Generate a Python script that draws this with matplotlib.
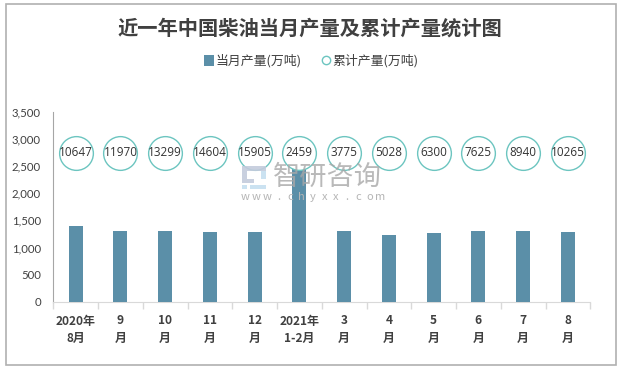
import numpy as np
import matplotlib
matplotlib.use('Agg')
import matplotlib.pyplot as plt
from matplotlib.lines import Line2D
from matplotlib.patches import Rectangle, Patch

plt.rcParams['font.family'] = ['Noto Sans CJK SC', 'DejaVu Sans']

months = ['2020年\n8月', '9\n月', '10\n月', '11\n月', '12\n月', '2021年\n1-2月',
          '3\n月', '4\n月', '5\n月', '6\n月', '7\n月', '8\n月']
monthly = [1400, 1305, 1305, 1290, 1290, 2459, 1305, 1240, 1260, 1305, 1305, 1290]
cumulative = [10647, 11970, 13299, 14604, 15905, 2459, 3775, 5028, 6300, 7625, 8940, 10265]
yticks = [0, 500, 1000, 1500, 2000, 2500, 3000, 3500]

W, H = 622, 369
BAR = '#5b8fa8'
RING = '#6cc5c0'
GREY = '#b0b0b0'

fig = plt.figure(figsize=(W / 100, H / 100), dpi=100, facecolor='white')
fig.add_artist(Rectangle((5.5 / W, 1 - 365 / H), 610 / W, 361 / H, transform=fig.transFigure,
                         fill=False, edgecolor=GREY, linewidth=1.2))

ax = fig.add_axes([53.3 / W, 1 - 302 / H, 537 / W, 190.4 / H])
x = np.arange(len(months))
ax.bar(x, monthly, width=0.31, color=BAR, zorder=3)

# circles sit in one row, the number inside is the cumulative value
row = 2745
ax.scatter(x, [row] * len(x), s=590, facecolor='white', edgecolor=RING, linewidth=1, zorder=4)
for i, v in zip(x, cumulative):
    ax.text(i, row, str(v), ha='center', va='center', fontsize=8.5, color='#333333',
            family='Open Sans', zorder=5)

ax.set_xlim(-0.5, len(months) - 0.5)
ax.set_ylim(0, 3500)
ax.set_yticks(yticks)
ax.set_yticklabels([f'{v:,}' for v in yticks], fontsize=8.2, color='#404040', family='Lato')
ax.tick_params(axis='y', length=0, pad=9)
ax.set_xticks(x)
ax.set_xticklabels(months, fontsize=8.6, fontweight='bold', color='#404040', linespacing=1.45)
ax.tick_params(axis='x', length=0, pad=9)
ax.set_xticks(np.arange(-0.5, len(months)), minor=True)
ax.tick_params(axis='x', which='minor', length=5, color='#d9d9d9', width=1)
for s in ['top', 'right']:
    ax.spines[s].set_visible(False)
ax.spines['left'].set_color('#a6a6a6')
ax.spines['bottom'].set_color('#d9d9d9')

fig.text(310 / W, 1 - 28 / H, '近一年中国柴油当月产量及累计产量统计图', ha='center', va='center',
         fontsize=14.6, fontweight='bold', color='#404040')

handles = [Patch(facecolor=BAR, label='当月产量(万吨)'),
           Line2D([], [], linestyle='none', marker='o', markersize=6, markerfacecolor='white',
                  markeredgecolor=RING, label='累计产量(万吨)')]
fig.legend(handles=handles, loc='center', bbox_to_anchor=(311 / W, 1 - 61 / H), ncol=2, frameon=False,
           fontsize=9.3, labelcolor='#404040', handlelength=0.8, handleheight=0.9, handletextpad=0.1,
           columnspacing=1.5)

# watermark
for bx, by, bw, bh, c in [(242, 166, 24, 5, '#c3cbdc'), (242, 171, 5, 8, '#c3cbdc'),
                          (242, 179, 12, 4, '#c3cbdc'), (242, 185, 5, 4, '#c6dff0'),
                          (261, 171, 5, 8, '#c6dff0'), (250, 185, 16, 4, '#c6dff0')]:
    fig.add_artist(Rectangle((bx / W, 1 - (by + bh) / H), bw / W, bh / H, transform=fig.transFigure,
                             facecolor=c, edgecolor='none', zorder=6, alpha=0.9))
fig.text(273 / W, 1 - 177 / H, '智研咨询', fontsize=19.6, color='#a8a8a8', alpha=0.8, va='center', zorder=6)
for k, ch in enumerate('www.chyxx.com'):
    fig.text((245 + k * 11.3) / W, 1 - 197 / H, ch, fontsize=8, color='#b5b5b5', ha='center', va='center', zorder=6)

fig.savefig('out.png', dpi=100)
